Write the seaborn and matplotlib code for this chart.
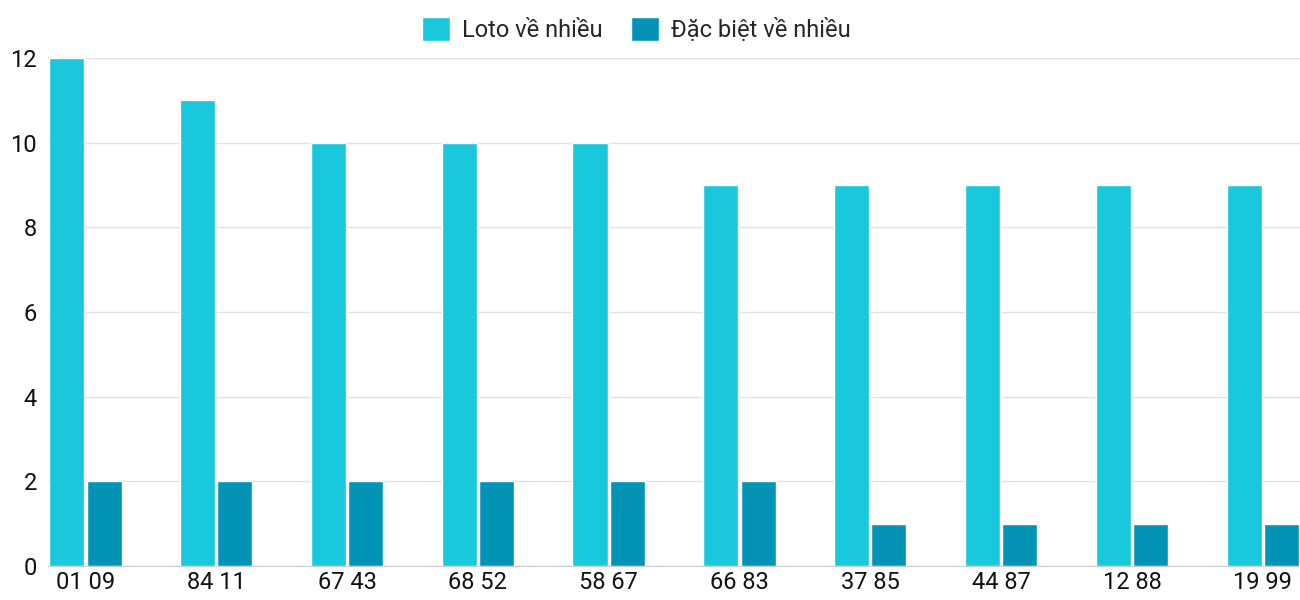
import pandas as pd
import matplotlib.pyplot as plt
import seaborn as sns

labels = ["01 09", "84 11", "67 43", "68 52", "58 67", "66 83", "37 85", "44 87", "12 88", "19 99"]
loto = [12, 11, 10, 10, 10, 9, 9, 9, 9, 9]
dacbiet = [2, 2, 2, 2, 2, 2, 1, 1, 1, 1]
series = ["Loto về nhiều", "Đặc biệt về nhiều"]
colors = ["#1ac8db", "#0393b7"]

df = pd.DataFrame({
    "label": labels * 2,
    "value": loto + dacbiet,
    "series": [series[0]] * len(labels) + [series[1]] * len(labels),
})

sns.set_style("white")
plt.rcParams['font.family'] = ['Roboto', 'DejaVu Sans']

fig = plt.figure(figsize=(13, 6), dpi=100)
ax = fig.add_axes([0.037, 0.057, 0.963, 0.846])
sns.barplot(data=df, x="label", y="value", hue="series", palette=colors,
            width=0.57, gap=0.06, ax=ax, saturation=1)

ax.set_ylim(0, 12)
ax.set_xlim(-0.285, 9.285)
ax.set_yticks(range(0, 13, 2))
ax.yaxis.grid(True, color="#e3e3e3", linewidth=1)
ax.set_axisbelow(True)
ax.set_xlabel("")
ax.set_ylabel("")
for s in ["top", "right", "left"]:
    ax.spines[s].set_visible(False)
ax.spines["bottom"].set_color("#cccccc")
ax.tick_params(axis="both", length=0, labelsize=17, colors="#111111")
ax.tick_params(axis="y", pad=8)

ax.legend(loc="lower center", bbox_to_anchor=(0.47, 1.0), ncol=2, frameon=False,
          fontsize=17, handlelength=1.2, handleheight=1.2, columnspacing=1.2,
          handletextpad=0.5, borderaxespad=0.3)

fig.savefig("out.png")
